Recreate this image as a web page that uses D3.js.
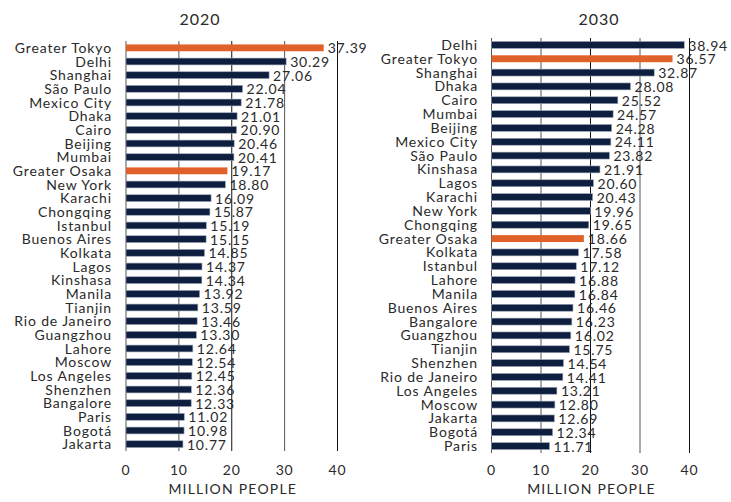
<!DOCTYPE html>
<html>
<head>
<meta charset="utf-8">
<script src="https://cdn.jsdelivr.net/npm/d3@7"></script>
<style>
  body { margin: 0; background: #fff; }
  svg { display: block; }
  text { font-family: Lato, "Noto Sans", sans-serif; font-weight: 400; fill: #2a2a2a; }
</style>
</head>
<body>
<svg id="chart" width="731" height="502"></svg>
<script>
// Largest urban agglomerations, population in millions
const cities2020 = ["Greater Tokyo","Delhi","Shanghai","São Paulo","Mexico City","Dhaka","Cairo","Beijing","Mumbai","Greater Osaka","New York","Karachi","Chongqing","Istanbul","Buenos Aires","Kolkata","Lagos","Kinshasa","Manila","Tianjin","Rio de Janeiro","Guangzhou","Lahore","Moscow","Los Angeles","Shenzhen","Bangalore","Paris","Bogotá","Jakarta"];
const values2020 = [37.39,30.29,27.06,22.04,21.78,21.01,20.90,20.46,20.41,19.17,18.80,16.09,15.87,15.19,15.15,14.85,14.37,14.34,13.92,13.59,13.46,13.30,12.64,12.54,12.45,12.36,12.33,11.02,10.98,10.77];

const cities2030 = ["Delhi","Greater Tokyo","Shanghai","Dhaka","Cairo","Mumbai","Beijing","Mexico City","São Paulo","Kinshasa","Lagos","Karachi","New York","Chongqing","Greater Osaka","Kolkata","Istanbul","Lahore","Manila","Buenos Aires","Bangalore","Guangzhou","Tianjin","Shenzhen","Rio de Janeiro","Los Angeles","Moscow","Jakarta","Bogotá","Paris"];
const values2030 = [38.94,36.57,32.87,28.08,25.52,24.57,24.28,24.11,23.82,21.91,20.60,20.43,19.96,19.65,18.66,17.58,17.12,16.88,16.84,16.46,16.23,16.02,15.75,14.54,14.41,13.21,12.80,12.69,12.34,11.71];

const highlighted = ["Greater Tokyo","Greater Osaka"];
const xTicks = [0,10,20,30,40];
const axisTitle = "MILLION PEOPLE";

const NAVY = "#0e1e3f";
const ORANGE = "#e0612a";

const svg = d3.select("#chart");

function panel(title, cats, vals, opt) {
  const g = svg.append("g");
  const x = d3.scaleLinear().domain([0, 40]).range([opt.x0, opt.x1]);
  const y = d3.scaleBand().domain(cats).range([opt.y0, opt.y1]).paddingInner(0.5).paddingOuter(0.25);

  // title
  g.append("text")
    .attr("x", opt.titleX)
    .attr("y", opt.titleY)
    .attr("text-anchor", "middle")
    .style("font-size", "16px")
    .style("letter-spacing", "1px")
    .text(title);

  // vertical gridlines
  g.selectAll("line.grid").data(xTicks).join("line")
    .attr("class", "grid")
    .attr("x1", d => x(d)).attr("x2", d => x(d))
    .attr("y1", opt.y0).attr("y2", opt.y1)
    .attr("stroke", d => (d === 20 || d === 40) ? "#111" : "#555")
    .attr("stroke-width", 1);

  // bars
  g.selectAll("rect.bar").data(cats).join("rect")
    .attr("class", "bar")
    .attr("x", x(0))
    .attr("y", d => y(d))
    .attr("width", (d, i) => x(vals[i]) - x(0))
    .attr("height", y.bandwidth())
    .attr("fill", d => highlighted.includes(d) ? ORANGE : NAVY)
    .attr("stroke", d => highlighted.includes(d) ? "none" : "#9aa3b3")
    .attr("stroke-width", 0.6);

  // category labels
  g.selectAll("text.cat").data(cats).join("text")
    .attr("class", "cat")
    .attr("x", opt.labelX)
    .attr("y", d => y(d) + y.bandwidth() / 2)
    .attr("dy", "0.36em")
    .attr("text-anchor", "end")
    .style("font-size", "14px")
    .style("letter-spacing", "0.85px")
    .text(d => d);

  // value labels
  g.selectAll("text.val").data(cats).join("text")
    .attr("class", "val")
    .attr("x", (d, i) => x(vals[i]) + 4)
    .attr("y", d => y(d) + y.bandwidth() / 2)
    .attr("dy", "0.4em")
    .style("font-size", "14px")
    .style("letter-spacing", "0.8px")
    .text((d, i) => vals[i].toFixed(2));

  // tick labels
  g.selectAll("text.tick").data(xTicks).join("text")
    .attr("class", "tick")
    .attr("x", d => x(d))
    .attr("y", opt.tickY)
    .attr("text-anchor", "middle")
    .style("font-size", "14px")
    .style("letter-spacing", "0.8px")
    .text(d => d);

  g.append("text")
    .attr("x", x(20) + 1)
    .attr("y", opt.axisTitleY)
    .attr("text-anchor", "middle")
    .style("font-size", "14px")
    .style("letter-spacing", "1.2px")
    .text(axisTitle);
}

panel("2020", cities2020, values2020, {
  x0: 126, x1: 337.5, y0: 41, y1: 451, labelX: 112,
  titleX: 200, titleY: 25, tickY: 475, axisTitleY: 494
});
panel("2030", cities2030, values2030, {
  x0: 491.5, x1: 689.5, y0: 38, y1: 453, labelX: 478,
  titleX: 599, titleY: 24.5, tickY: 475, axisTitleY: 494
});
</script>
</body>
</html>
